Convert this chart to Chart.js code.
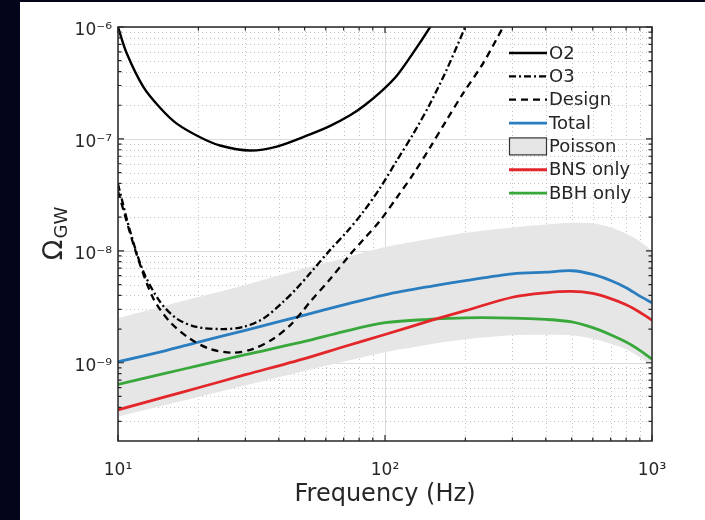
<!DOCTYPE html>
<html>
<head>
<meta charset="utf-8">
<script src="https://cdn.jsdelivr.net/npm/chart.js@4.4.1/dist/chart.umd.min.js"></script>
<style>
html,body{margin:0;padding:0;background:#ffffff;overflow:hidden}
canvas{display:block}
</style>
</head>
<body>
<canvas id="c" width="705" height="520"></canvas>
<script>
// ---------- data ----------
const xTickValues = [10, 100, 1000];
const xTickLabels = ['10\u00b9', '10\u00b2', '10\u00b3'];
const yTickValues = [1e-9, 1e-8, 1e-7, 1e-6];
const yTickLabels = ['10\u207b\u2079', '10\u207b\u2078', '10\u207b\u2077', '10\u207b\u2076'];

// detector sensitivity curves
const o2Freq  = [10, 10.78, 12.44, 14.37, 16.6, 20.3, 24.1, 31.2, 39.3, 52.4, 62.3, 74, 83, 95.7, 110.7, 127.6, 147.6, 165];
const o2Omega = [1.0e-6, 5.83e-7, 2.92e-7, 1.90e-7, 1.37e-7, 1.035e-7, 8.73e-8, 7.87e-8, 8.55e-8, 1.10e-7, 1.31e-7, 1.63e-7, 1.96e-7, 2.59e-7, 3.67e-7, 5.9e-7, 1.0e-6, 1.55e-6];

const o3Freq  = [10, 11.1, 12.44, 14.37, 16.6, 19.7, 24.8, 29.5, 35.0, 41.6, 46.7, 52.4, 62.3, 72, 83, 95.7, 110.7, 127.6, 147.6, 170, 199.6, 217];
const o3Omega = [3.95e-8, 1.5e-8, 6.54e-9, 3.51e-9, 2.48e-9, 2.09e-9, 2.0e-9, 2.09e-9, 2.48e-9, 3.51e-9, 4.62e-9, 6.3e-9, 1.02e-8, 1.48e-8, 2.24e-8, 3.63e-8, 6.4e-8, 1.11e-7, 2.07e-7, 4.13e-7, 1.0e-6, 1.65e-6];

const designFreq  = [10, 11.75, 13.56, 15.65, 18.6, 22.1, 27.0, 32.1, 38.2, 44.1, 49.5, 52.4, 62.3, 74, 83, 95.7, 110.7, 127.6, 147.6, 170, 196, 233, 277, 300];
const designOmega = [3.4e-8, 9.25e-9, 3.76e-9, 2.32e-9, 1.64e-9, 1.33e-9, 1.23e-9, 1.33e-9, 1.64e-9, 2.16e-9, 2.95e-9, 3.5e-9, 5.6e-9, 9.25e-9, 1.26e-8, 1.85e-8, 2.99e-8, 4.85e-8, 8.41e-8, 1.47e-7, 2.55e-7, 4.74e-7, 1.0e-6, 1.42e-6];

// astrophysical background
const astroFreq    = [10, 15, 20, 30, 50, 70, 100, 150, 200, 300, 400, 500, 600, 700, 800, 900, 1000];
const totalOmega   = [1.02e-9, 1.28e-9, 1.53e-9, 1.95e-9, 2.67e-9, 3.29e-9, 4.05e-9, 4.85e-9, 5.43e-9, 6.24e-9, 6.45e-9, 6.64e-9, 6.17e-9, 5.44e-9, 4.69e-9, 3.94e-9, 3.44e-9];
const bnsOmega     = [3.8e-10, 4.95e-10, 5.98e-10, 7.82e-10, 1.09e-9, 1.39e-9, 1.79e-9, 2.40e-9, 2.92e-9, 3.85e-9, 4.22e-9, 4.34e-9, 4.16e-9, 3.74e-9, 3.3e-9, 2.83e-9, 2.4e-9];
const bbhOmega     = [6.4e-10, 8.03e-10, 9.44e-10, 1.18e-9, 1.55e-9, 1.90e-9, 2.28e-9, 2.45e-9, 2.52e-9, 2.51e-9, 2.44e-9, 2.32e-9, 2.06e-9, 1.78e-9, 1.53e-9, 1.29e-9, 1.08e-9];
const poissonUpper = [2.5e-9, 3.23e-9, 3.86e-9, 4.96e-9, 7.0e-9, 8.6e-9, 1.08e-8, 1.29e-8, 1.45e-8, 1.62e-8, 1.72e-8, 1.78e-8, 1.76e-8, 1.62e-8, 1.43e-8, 1.22e-8, 1.0e-8];
const poissonLower = [3.3e-10, 4.19e-10, 4.95e-10, 6.27e-10, 8.44e-10, 1.02e-9, 1.24e-9, 1.47e-9, 1.62e-9, 1.76e-9, 1.78e-9, 1.76e-9, 1.64e-9, 1.48e-9, 1.32e-9, 1.12e-9, 9.4e-10];

// ---------- styling ----------
const FONT = 'DejaVu Sans';
const TXT = '#262626';
const BLUE = '#2a7dbf', RED = '#e3262a', GREEN = '#38a83a', BAND = '#e6e6e6';
const DASHDOT = [7, 3, 2, 3], DASHED = [7, 5];

const pts = (xs, ys) => xs.map((x, i) => ({x: x, y: ys[i]}));

function lineDs(label, xs, ys, color, width, dash) {
  return {
    label: label, data: pts(xs, ys), borderColor: color, borderWidth: width,
    borderDash: dash || [], pointRadius: 0, fill: false,
    tension: 0.3, clip: 0
  };
}

const datasets = [
  lineDs('O2', o2Freq, o2Omega, '#000000', 2.4),
  lineDs('O3', o3Freq, o3Omega, '#000000', 2.3, DASHDOT),
  lineDs('Design', designFreq, designOmega, '#000000', 2.3, DASHED),
  lineDs('Total', astroFreq, totalOmega, BLUE, 2.8),
  lineDs('BNS only', astroFreq, bnsOmega, RED, 2.8),
  lineDs('BBH only', astroFreq, bbhOmega, GREEN, 2.8),
  Object.assign(lineDs('Poisson', astroFreq, poissonUpper, BAND, 0), {fill: '+1', backgroundColor: BAND}),
  lineDs('Poisson lower', astroFreq, poissonLower, BAND, 0)
];

const legendOrder = ['O2', 'O3', 'Design', 'Total', 'Poisson', 'BNS only', 'BBH only'];

// minor tick/grid positions (2..9 times each decade)
const xMinor = [], yMinor = [];
[10, 100].forEach(d => { for (let k = 2; k <= 9; k++) xMinor.push(k * d); });
[1e-10, 1e-9, 1e-8, 1e-7].forEach(d => { for (let k = 2; k <= 9; k++) if (k * d > 2.01e-10) yMinor.push(k * d); });

const matlabAxes = {
  id: 'matlabAxes',
  beforeDraw(chart) {
    const ctx = chart.ctx;
    ctx.save();
    ctx.fillStyle = '#ffffff';
    ctx.fillRect(0, 0, chart.width, chart.height);
    ctx.fillStyle = '#04041a';
    ctx.fillRect(0, 0, 20, chart.height);
    ctx.fillRect(0, 0, chart.width, 2);
    ctx.restore();
  },
  beforeDatasetsDraw(chart) {
    const ctx = chart.ctx, a = chart.chartArea, xs = chart.scales.x, ys = chart.scales.y;
    ctx.save();
    ctx.lineWidth = 1;
    ctx.strokeStyle = '#c2c2c2';
    ctx.setLineDash([1, 3]);
    ctx.beginPath();
    xMinor.forEach(v => { const p = Math.round(xs.getPixelForValue(v)) + 0.5; ctx.moveTo(p, a.top); ctx.lineTo(p, a.bottom); });
    yMinor.forEach(v => { const p = Math.round(ys.getPixelForValue(v)) + 0.5; ctx.moveTo(a.left, p); ctx.lineTo(a.right, p); });
    ctx.stroke();
    ctx.setLineDash([]);
    ctx.strokeStyle = '#dcdcdc';
    ctx.beginPath();
    xTickValues.forEach(v => { const p = Math.round(xs.getPixelForValue(v)) + 0.5; ctx.moveTo(p, a.top); ctx.lineTo(p, a.bottom); });
    yTickValues.forEach(v => { const p = Math.round(ys.getPixelForValue(v)) + 0.5; ctx.moveTo(a.left, p); ctx.lineTo(a.right, p); });
    ctx.stroke();
    ctx.restore();
  },
  afterDatasetsDraw(chart) {
    const ctx = chart.ctx, a = chart.chartArea, xs = chart.scales.x, ys = chart.scales.y;
    ctx.save();
    ctx.setLineDash([]);
    ctx.strokeStyle = TXT;
    ctx.lineWidth = 1.2;
    ctx.beginPath();
    const tickX = (v, len) => { const p = xs.getPixelForValue(v); ctx.moveTo(p, a.bottom); ctx.lineTo(p, a.bottom - len); ctx.moveTo(p, a.top); ctx.lineTo(p, a.top + len); };
    const tickY = (v, len) => { const p = ys.getPixelForValue(v); ctx.moveTo(a.left, p); ctx.lineTo(a.left + len, p); ctx.moveTo(a.right, p); ctx.lineTo(a.right - len, p); };
    xTickValues.forEach(v => tickX(v, 6));
    xMinor.forEach(v => tickX(v, 3.5));
    yTickValues.forEach(v => tickY(v, 6));
    yMinor.forEach(v => tickY(v, 3.5));
    ctx.stroke();
    ctx.lineWidth = 1.5;
    ctx.strokeRect(a.left, a.top, a.right - a.left, a.bottom - a.top);

    // legend (transparent, inside the axes, top right)
    const lx0 = a.left + 391, lx1 = a.left + 429, tx = a.left + 431;
    ctx.font = '18px "' + FONT + '"';
    ctx.textBaseline = 'middle';
    ctx.textAlign = 'left';
    legendOrder.forEach((name, i) => {
      const ds = chart.data.datasets.find(d => d.label === name);
      const yRow = a.top + 26 + i * 23.35;
      if (name === 'Poisson') {
        ctx.fillStyle = BAND;
        ctx.fillRect(lx0, yRow - 8.5, lx1 - lx0 - 1, 17);
        ctx.strokeStyle = '#333333';
        ctx.lineWidth = 1.2;
        ctx.setLineDash([]);
        ctx.strokeRect(lx0 + 0.5, yRow - 8.5, lx1 - lx0 - 1, 17);
      } else {
        ctx.strokeStyle = ds.borderColor;
        ctx.lineWidth = ds.borderWidth;
        ctx.setLineDash(ds.borderDash || []);
        ctx.beginPath();
        ctx.moveTo(lx0, yRow);
        ctx.lineTo(lx1, yRow);
        ctx.stroke();
        ctx.setLineDash([]);
      }
      ctx.fillStyle = TXT;
      ctx.fillText(name, tx, yRow + 1);
    });

    // y-axis title: Omega with subscript GW, rotated
    const cy = (a.top + a.bottom) / 2;
    ctx.translate(0, cy);
    ctx.rotate(-Math.PI / 2);
    ctx.textBaseline = 'alphabetic';
    ctx.fillStyle = TXT;
    const bigF = '27px "' + FONT + '"', subF = '18px "' + FONT + '"';
    ctx.font = bigF;
    const wO = ctx.measureText('\u03a9').width;
    ctx.font = subF;
    const wS = ctx.measureText('GW').width;
    const start = -(wO + wS) / 2;
    ctx.font = bigF;
    ctx.fillText('\u03a9', start, 62);
    ctx.font = subF;
    ctx.fillText('GW', start + wO + 1, 67);
    ctx.restore();
  }
};

new Chart(document.getElementById('c'), {
  type: 'line',
  data: {datasets: datasets},
  plugins: [matlabAxes],
  options: {
    responsive: false,
    animation: false,
    layout: {padding: {top: 27, right: 53, left: 0, bottom: 0}},
    plugins: {legend: {display: false}, tooltip: {enabled: false}},
    scales: {
      x: {
        type: 'logarithmic', min: 10, max: 1000,
        afterBuildTicks: s => { s.ticks = xTickValues.map(v => ({value: v})); },
        afterFit: s => { s.height = 79; },
        ticks: {
          callback: (v, i) => xTickLabels[i],
          font: {family: FONT, size: 17}, color: TXT, padding: 19,
          maxRotation: 0, autoSkip: false
        },
        grid: {display: false, drawTicks: false},
        border: {display: false},
        title: {display: true, text: 'Frequency (Hz)', font: {family: FONT, size: 24}, color: TXT, padding: {top: 0, bottom: 11}}
      },
      y: {
        type: 'logarithmic', min: 2e-10, max: 1e-6,
        afterBuildTicks: s => { s.ticks = yTickValues.map(v => ({value: v})); },
        afterFit: s => { s.width = 118; },
        ticks: {
          callback: (v, i) => yTickLabels[i],
          font: {family: FONT, size: 17}, color: TXT, padding: 6, labelOffset: 4,
          autoSkip: false
        },
        grid: {display: false, drawTicks: false},
        border: {display: false}
      }
    }
  }
});
</script>
</body>
</html>
